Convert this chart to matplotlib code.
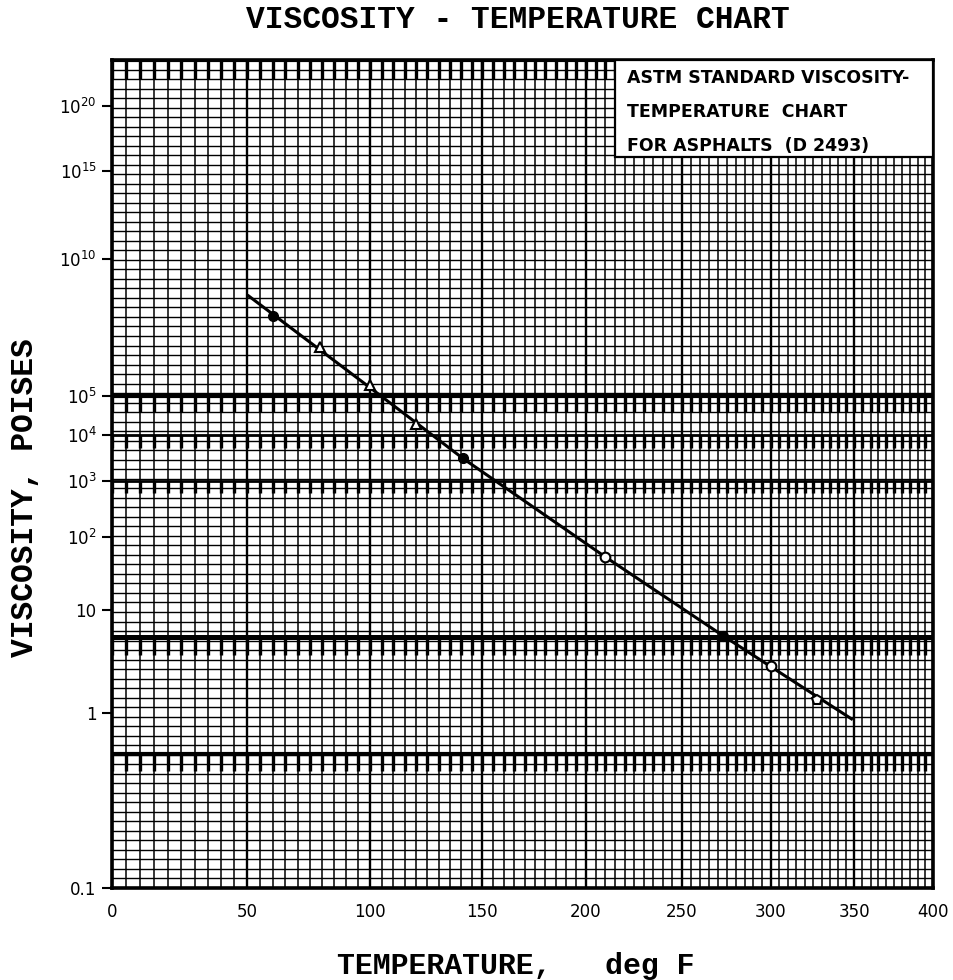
import numpy as np
import matplotlib
matplotlib.use("Agg")
import matplotlib.pyplot as plt
from matplotlib.patches import Rectangle
from matplotlib.ticker import FixedLocator, FixedFormatter, NullLocator

# ---------------- data ----------------
line_temp_f = [50, 100, 141, 210, 273, 349]
line_visc_p = [2.6e8, 1.66e5, 2.9e3, 50, 5.1, 0.88]

filled_temp_f = [60, 141, 273]
filled_visc_p = [3.7e7, 2.9e3, 5.1]

tri_temp_f = [79, 100, 120]
tri_visc_p = [3.1e6, 2.0e5, 1.8e4]

open_temp_f = [210, 300]
open_visc_p = [50, 2.56]

pent_temp_f = [327]
pent_visc_p = [1.27]

x_ticks = [0, 50, 100, 150, 200, 250, 300, 350, 400]
x_tick_labels = ["0", "50", "100", "150", "200", "250", "300", "350", "400"]
y_ticks = [0.1, 1, 10, 1e2, 1e3, 1e4, 1e5, 1e10, 1e15, 1e20]
y_tick_labels = ["0.1", "1", "10", r"$\mathregular{10^{2}}$", r"$\mathregular{10^{3}}$",
                 r"$\mathregular{10^{4}}$", r"$\mathregular{10^{5}}$",
                 r"$\mathregular{10^{10}}$", r"$\mathregular{10^{15}}$",
                 r"$\mathregular{10^{20}}$"]

box_lines = ["ASTM STANDARD VISCOSITY-", "TEMPERATURE  CHART", "FOR ASPHALTS  (D 2493)"]

T_MIN, T_MAX = 0, 400
V_MIN, V_MAX = 0.1, 2.3e24

# ---------------- scales: log(T+460) and loglog(viscosity, cP) ----------------
def fwd_x(t):
    with np.errstate(all="ignore"):
        return np.log10(np.asarray(t, dtype=float) + 460.0)

def inv_x(u):
    with np.errstate(all="ignore"):
        return 10.0 ** np.asarray(u, dtype=float) - 460.0

def fwd_y(v):
    with np.errstate(all="ignore"):
        return np.log10(np.log10(np.asarray(v, dtype=float) * 100.0))

def inv_y(u):
    with np.errstate(all="ignore"):
        return 10.0 ** (10.0 ** np.asarray(u, dtype=float)) / 100.0

fig = plt.figure(figsize=(9.54, 9.80), dpi=100)
ax = fig.add_axes([112 / 954, 92 / 980, 821 / 954, 828 / 980])
ax.set_xscale("function", functions=(fwd_x, inv_x))
ax.set_yscale("function", functions=(fwd_y, inv_y))
ax.set_xlim(T_MIN, T_MAX)
ax.set_ylim(V_MIN, V_MAX)

# ---------------- chart-paper grid ----------------
grid_temps = np.arange(T_MIN, T_MAX + 1, 5)
grid_visc = inv_y(np.linspace(fwd_y(V_MIN), fwd_y(V_MAX), 88))
ax.hlines(grid_visc, T_MIN, T_MAX, color="black", lw=1.0, zorder=1)
ax.vlines(grid_temps, V_MIN, V_MAX, color="black", lw=1.1, zorder=1)
ax.vlines(x_ticks, V_MIN, V_MAX, color="black", lw=1.7, zorder=1)

# heavier bands of the printed chart paper: (top, bottom, line width of top rule)
bands = [(5.0, 3.25, 3.6), (0.5, 0.386, 3.0), (1e5, 3.6e4, 3.0),
         (1e4, 5.0e3, 2.0), (1e3, 5.7e2, 2.0), (V_MAX, 3e22, 3.0)]
for top, bot, lw in bands:
    ax.hlines([top], T_MIN, T_MAX, color="black", lw=lw, zorder=2)
    ax.vlines(grid_temps, bot, top, color="black", lw=2.4, zorder=2)

# ---------------- data line and points ----------------
ax.plot(line_temp_f, line_visc_p, color="black", lw=2.2, zorder=4, solid_capstyle="butt")
ax.plot(filled_temp_f, filled_visc_p, "o", ms=7, mfc="black", mec="black", zorder=5)
ax.plot(tri_temp_f, tri_visc_p, "^", ms=7, mfc="white", mec="black", mew=1.5, zorder=5)
ax.plot(open_temp_f, open_visc_p, "o", ms=7, mfc="white", mec="black", mew=1.5, zorder=5)
ax.plot(pent_temp_f, pent_visc_p, "p", ms=7.5, mfc="white", mec="black", mew=1.5, zorder=5)

# ---------------- ticks ----------------
ax.xaxis.set_major_locator(FixedLocator(x_ticks))
ax.xaxis.set_major_formatter(FixedFormatter(x_tick_labels))
ax.xaxis.set_minor_locator(NullLocator())
ax.yaxis.set_major_locator(FixedLocator(y_ticks))
ax.yaxis.set_major_formatter(FixedFormatter(y_tick_labels))
ax.yaxis.set_minor_locator(NullLocator())
ax.tick_params(axis="x", length=0, pad=11, labelsize=12)
ax.tick_params(axis="y", direction="out", length=7, width=1.5, pad=4, labelsize=12)
for s in ax.spines.values():
    s.set_linewidth(2.6)
    s.set_zorder(6)

# ---------------- info box ----------------
bx0 = (615 - 112) / 821
by0 = (888 - 157) / 828
ax.add_patch(Rectangle((bx0, by0), 1 - bx0, 1 - by0, transform=ax.transAxes,
                       facecolor="white", edgecolor="black", lw=1.6, zorder=7))
for txt, ypix in zip(box_lines, [78, 112, 146]):
    ax.text((627 - 112) / 821, (888 - ypix) / 828, txt, transform=ax.transAxes,
            ha="left", va="center", fontsize=12.5, fontweight="bold",
            family="DejaVu Sans", zorder=8)

# ---------------- titles ----------------
mono = ["Liberation Mono", "DejaVu Sans Mono"]
fig.text(518 / 954, 1 - 20 / 980, "VISCOSITY - TEMPERATURE CHART", ha="center", va="center",
         fontsize=22.5, fontweight="bold", family=mono)
fig.text(25 / 954, 1 - 498 / 980, "VISCOSITY, POISES", ha="center", va="center",
         rotation=90, fontsize=22.5, fontweight="bold", family=mono)
fig.text(516 / 954, 1 - 966 / 980, "TEMPERATURE,   deg F", ha="center", va="center",
         fontsize=21.5, fontweight="bold", family=mono)

fig.savefig("out.png", dpi=100, facecolor="white")
